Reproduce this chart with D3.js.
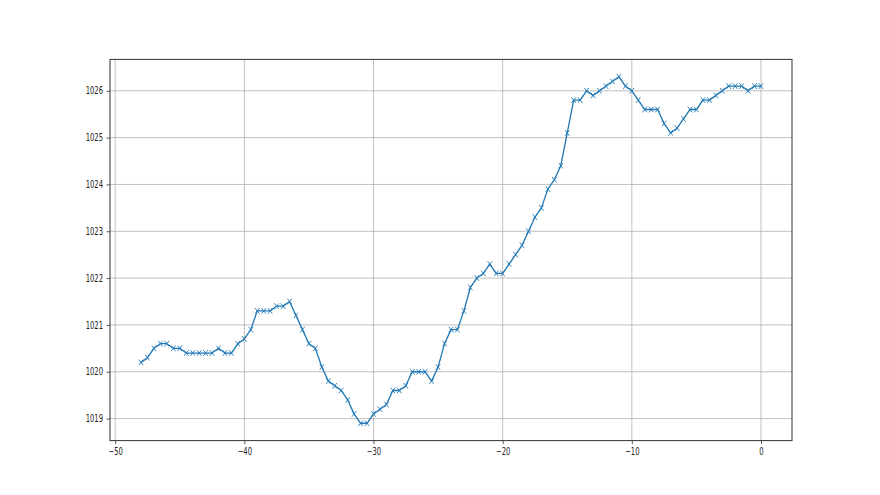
<!DOCTYPE html>
<html>
<head>
<meta charset="utf-8">
<script src="https://cdn.jsdelivr.net/npm/d3@7"></script>
<style>
    body { margin: 0; background: #fff; }
    #chart text { font-family: "DejaVu Sans", sans-serif; font-size: 10px; fill: #222; }
</style>
</head>
<body>
<div id="chart"></div>
<script>

//==================================//
// Data
//

let hours = [
    -48, -47.5, -47, -46.5, -46, -45.5, -45, -44.5, -44, -43.5,
    -43, -42.5, -42, -41.5, -41, -40.5, -40, -39.5, -39, -38.5,
    -38, -37.5, -37, -36.5, -36, -35.5, -35, -34.5, -34, -33.5,
    -33, -32.5, -32, -31.5, -31, -30.5, -30, -29.5, -29, -28.5,
    -28, -27.5, -27, -26.5, -26, -25.5, -25, -24.5, -24, -23.5,
    -23, -22.5, -22, -21.5, -21, -20.5, -20, -19.5, -19, -18.5,
    -18, -17.5, -17, -16.5, -16, -15.5, -15, -14.5, -14, -13.5,
    -13, -12.5, -12, -11.5, -11, -10.5, -10, -9.5, -9, -8.5,
    -8, -7.5, -7, -6.5, -6, -5.5, -5, -4.5, -4, -3.5,
    -3, -2.5, -2, -1.5, -1, -0.5, 0
]

let pressure = [
    1020.2, 1020.3, 1020.5, 1020.6, 1020.6, 1020.5, 1020.5, 1020.4, 1020.4, 1020.4,
    1020.4, 1020.4, 1020.5, 1020.4, 1020.4, 1020.6, 1020.7, 1020.9, 1021.3, 1021.3,
    1021.3, 1021.4, 1021.4, 1021.5, 1021.2, 1020.9, 1020.6, 1020.5, 1020.1, 1019.8,
    1019.7, 1019.6, 1019.4, 1019.1, 1018.9, 1018.9, 1019.1, 1019.2, 1019.3, 1019.6,
    1019.6, 1019.7, 1020.0, 1020.0, 1020.0, 1019.8, 1020.1, 1020.6, 1020.9, 1020.9,
    1021.3, 1021.8, 1022.0, 1022.1, 1022.3, 1022.1, 1022.1, 1022.3, 1022.5, 1022.7,
    1023.0, 1023.3, 1023.5, 1023.9, 1024.1, 1024.4, 1025.1, 1025.8, 1025.8, 1026.0,
    1025.9, 1026.0, 1026.1, 1026.2, 1026.3, 1026.1, 1026.0, 1025.8, 1025.6, 1025.6,
    1025.6, 1025.3, 1025.1, 1025.2, 1025.4, 1025.6, 1025.6, 1025.8, 1025.8, 1025.9,
    1026.0, 1026.1, 1026.1, 1026.1, 1026.0, 1026.1, 1026.1
]

let xTicks = [-50, -40, -30, -20, -10, 0]
let yTicks = [1019, 1020, 1021, 1022, 1023, 1024, 1025, 1026]


//==================================//
// Layout (matplotlib-ish figure, squeezed sideways)
//

let svgw = 880, svgh = 495
let axL = 110, axR = 792, axT = 59.4, axB = 440.6
let lineColor = '#1f77b4'
let squeeze = 0.68   // the reference picture is narrowed horizontally

let points = hours.map((h, i) => ({x: h, y: pressure[i]}))

// 5% margin like matplotlib autoscale
let xExt = d3.extent(hours), yExt = d3.extent(pressure)
let xPad = (xExt[1] - xExt[0]) * 0.05
let yPad = (yExt[1] - yExt[0]) * 0.05

let xScale = d3.scaleLinear().domain([xExt[0] - xPad, xExt[1] + xPad]).range([axL, axR])
let yScale = d3.scaleLinear().domain([yExt[0] - yPad, yExt[1] + yPad]).range([axB, axT])

let svg = d3.select('#chart').append('svg')
    .attr('width', svgw)
    .attr('height', svgh)

let minus = (v) => String(v).replace('-', '\u2212')


//====[ Grid ]====//

let g_grid = svg.append('g')

g_grid.selectAll('line.gx')
    .data(xTicks)
    .enter()
    .append('line')
    .attr('x1', d => xScale(d)).attr('x2', d => xScale(d))
    .attr('y1', axT).attr('y2', axB)
    .attr('stroke', '#b0b0b0')
    .attr('stroke-width', 0.8)

g_grid.selectAll('line.gy')
    .data(yTicks)
    .enter()
    .append('line')
    .attr('x1', axL).attr('x2', axR)
    .attr('y1', d => yScale(d)).attr('y2', d => yScale(d))
    .attr('stroke', '#b0b0b0')
    .attr('stroke-width', 0.8)


//====[ Line + markers ]====//

let lineFunc = d3.line()
    .x(d => xScale(d.x))
    .y(d => yScale(d.y))

svg.append('path')
    .datum(points)
    .attr('d', lineFunc)
    .attr('fill', 'none')
    .attr('stroke', lineColor)
    .attr('stroke-width', 1.3)
    .attr('stroke-linejoin', 'round')

let mx = 2.2, my = 2.8
svg.append('g')
    .selectAll('path')
    .data(points)
    .enter()
    .append('path')
    .attr('d', d => {
        let cx = xScale(d.x), cy = yScale(d.y)
        return 'M' + (cx - mx) + ',' + (cy - my) + 'L' + (cx + mx) + ',' + (cy + my) +
               'M' + (cx - mx) + ',' + (cy + my) + 'L' + (cx + mx) + ',' + (cy - my)
    })
    .attr('stroke', lineColor)
    .attr('stroke-width', 0.9)
    .attr('fill', 'none')


//====[ Axes ]====//

let xAxis = d3.axisBottom(xScale).tickValues(xTicks).tickSize(3.5).tickPadding(3.5).tickFormat(minus)
let yAxis = d3.axisLeft(yScale).tickValues(yTicks).tickSize(3.5).tickPadding(3.5).tickFormat(d3.format('d'))

let g_x = svg.append('g').attr('transform', 'translate(0,' + axB + ')').call(xAxis)
let g_y = svg.append('g').attr('transform', 'translate(' + axL + ',0)').call(yAxis)

g_x.select('.domain').remove()
g_y.select('.domain').remove()
svg.selectAll('.tick line').attr('stroke', '#333').attr('stroke-width', 0.8)
svg.selectAll('.tick text')
    .attr('font-family', 'DejaVu Sans')
    .attr('font-size', 10)
    .attr('transform', function () {
        let tx = +d3.select(this).attr('x') || 0
        return 'translate(' + tx + ',0) scale(' + squeeze + ',1) translate(' + (-tx) + ',0)'
    })

//====[ Spines ]====//

svg.append('rect')
    .attr('x', axL).attr('y', axT)
    .attr('width', axR - axL).attr('height', axB - axT)
    .attr('fill', 'none')
    .attr('stroke', '#333')
    .attr('stroke-width', 1)

</script>
</body>
</html>
